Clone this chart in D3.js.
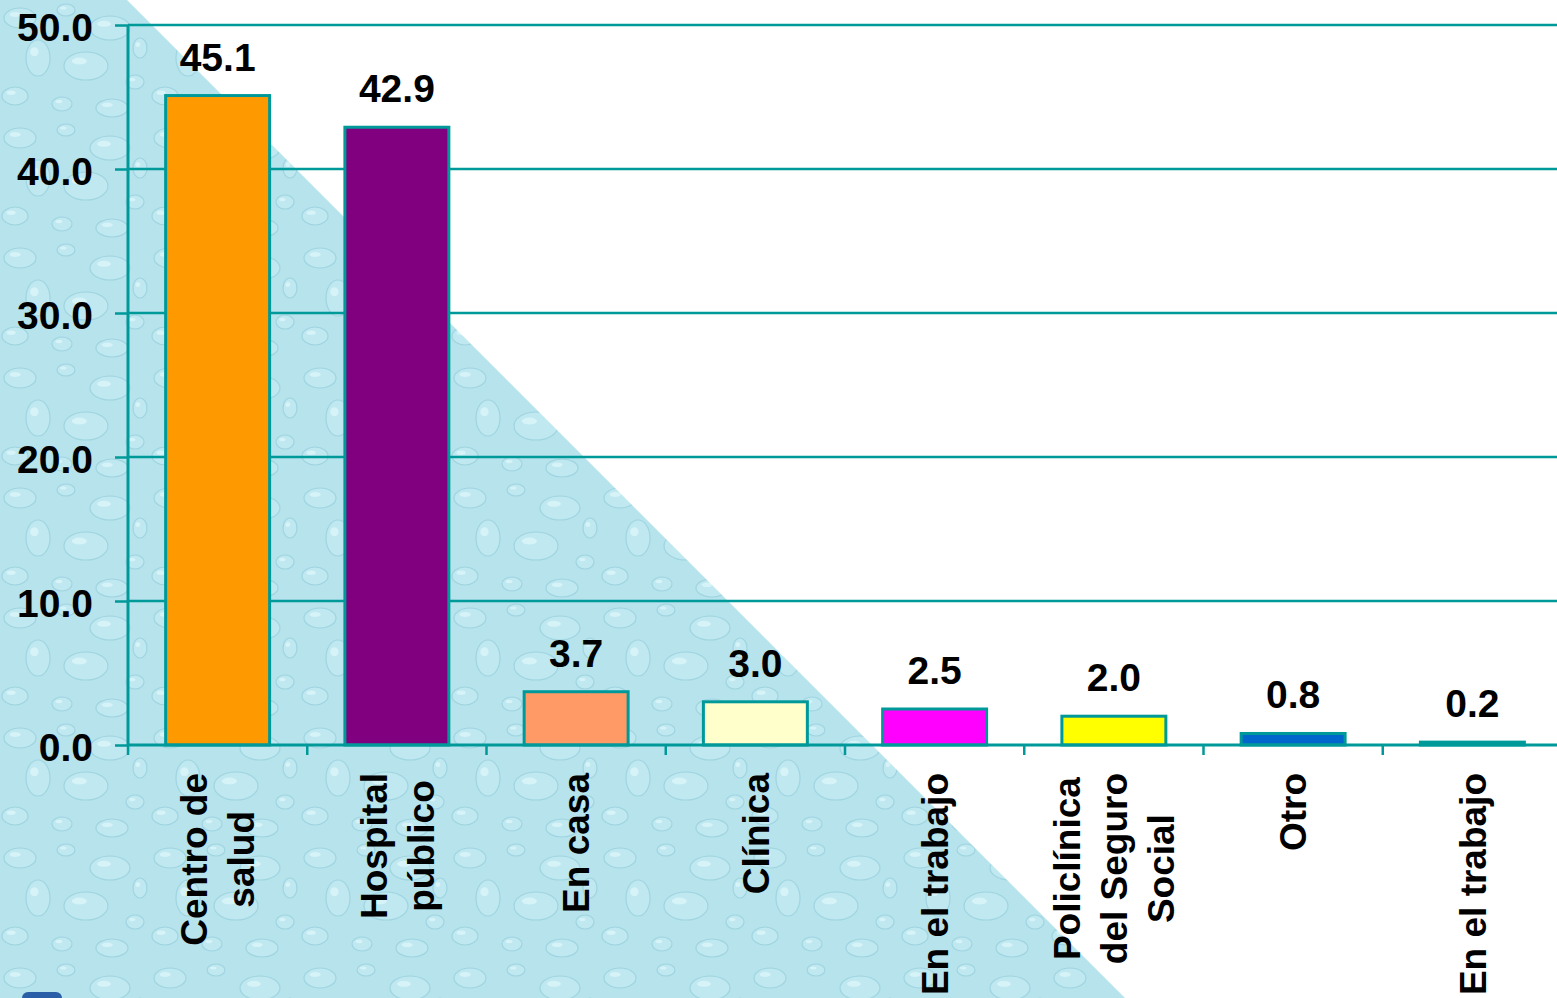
<!DOCTYPE html>
<html>
<head>
<meta charset="utf-8">
<script src="https://cdn.jsdelivr.net/npm/d3@7"></script>
<style>
  body { margin: 0; background: #fff; }
  svg { display: block; font-family: "Liberation Sans", Arial, sans-serif; }
</style>
</head>
<body>
<div id="chart"></div>
<script>
// data
const categories = [
  ["Centro de", "salud"],
  ["Hospital", "público"],
  ["En casa"],
  ["Clínica"],
  ["En el trabajo"],
  ["Policlínica", "del Seguro", "Social"],
  ["Otro"],
  ["En el trabajo"]
];
const values = [45.1, 42.9, 3.7, 3.0, 2.5, 2.0, 0.8, 0.2];
const barColors = ["#ff9900", "#800080", "#ff9966", "#ffffcc", "#ff00ff", "#ffff00", "#0066cc", "#009999"];
const yTicks = [0, 10, 20, 30, 40, 50];

const width = 1557, height = 998;
const teal = "#009999";

const svg = d3.select("#chart").append("svg")
  .attr("width", width)
  .attr("height", height);

// water drop texture for the triangle
const defs = svg.append("defs");
const pat = defs.append("pattern")
  .attr("id", "water")
  .attr("patternUnits", "userSpaceOnUse")
  .attr("width", 150).attr("height", 120);
pat.append("rect").attr("width", 150).attr("height", 120).attr("fill", "#b6e3ec");
const drops = [
  [20, 18, 16, 10], [66, 10, 9, 6], [110, 28, 20, 12], [38, 58, 12, 18],
  [86, 66, 22, 14], [135, 82, 9, 7], [15, 96, 13, 9], [62, 104, 10, 7],
  [112, 108, 16, 9], [140, 48, 7, 10]
];
drops.forEach(d => {
  pat.append("ellipse")
    .attr("cx", d[0]).attr("cy", d[1]).attr("rx", d[2]).attr("ry", d[3])
    .attr("fill", "#bfe8f0").attr("stroke", "#9fd5e1").attr("stroke-width", 1.2);
  pat.append("ellipse")
    .attr("cx", d[0] - d[2] * 0.3).attr("cy", d[1] - d[3] * 0.35)
    .attr("rx", d[2] * 0.35).attr("ry", d[3] * 0.25)
    .attr("fill", "#d6f3f8");
});

svg.append("polygon")
  .attr("points", `0,0 127,0 ${127 + height},${height} 0,${height}`)
  .attr("fill", "url(#water)");

// small blue shape peeking in at the bottom-left corner
svg.append("rect")
  .attr("x", 22).attr("y", 992).attr("width", 40).attr("height", 14).attr("rx", 6)
  .attr("fill", "#2a5fa8");

// scales
const x = d3.scaleBand()
  .domain(d3.range(values.length))
  .range([128, 1562])
  .paddingInner(0.42)
  .paddingOuter(0.21);

const y = d3.scaleLinear()
  .domain([0, 50])
  .range([745, 25]);

// gridlines + y axis
const yAxis = svg.append("g")
  .attr("transform", "translate(128,0)")
  .call(d3.axisLeft(y).tickValues(yTicks).tickSize(13).tickFormat(d3.format(".1f")));
yAxis.select(".domain").remove();
yAxis.selectAll(".tick line").attr("stroke", teal).attr("stroke-width", 2.5);
yAxis.selectAll(".tick text")
  .attr("x", -35)
  .attr("dy", "0.4em")
  .attr("font-size", 39)
  .attr("font-weight", "bold")
  .attr("fill", "#000");

svg.append("g")
  .selectAll("line")
  .data(yTicks.filter(d => d > 0))
  .join("line")
    .attr("x1", 128).attr("x2", width)
    .attr("y1", d => y(d)).attr("y2", d => y(d))
    .attr("stroke", teal).attr("stroke-width", 2.5);

svg.append("line")
  .attr("x1", 128).attr("x2", 128)
  .attr("y1", y(50)).attr("y2", y(0))
  .attr("stroke", teal).attr("stroke-width", 3);

// bars
svg.append("g")
  .selectAll("rect")
  .data(values)
  .join("rect")
    .attr("x", (d, i) => x(i))
    .attr("y", d => y(d))
    .attr("width", x.bandwidth())
    .attr("height", d => y(0) - y(d))
    .attr("fill", (d, i) => barColors[i])
    .attr("stroke", teal)
    .attr("stroke-width", 3);

// x axis
const xAxis = svg.append("g")
  .attr("transform", `translate(0,${y(0)})`);
xAxis.append("line")
  .attr("x1", 128).attr("x2", width)
  .attr("stroke", teal).attr("stroke-width", 3);
xAxis.selectAll(".xt")
  .data(d3.range(values.length + 1))
  .join("line")
    .attr("class", "xt")
    .attr("x1", i => 128 + i * x.step())
    .attr("x2", i => 128 + i * x.step())
    .attr("y1", 0).attr("y2", 10)
    .attr("stroke", teal).attr("stroke-width", 2.5);

// value labels
svg.append("g")
  .selectAll("text")
  .data(values)
  .join("text")
    .attr("x", (d, i) => x(i) + x.bandwidth() / 2)
    .attr("y", d => y(d) - 25)
    .attr("text-anchor", "middle")
    .attr("font-size", 39)
    .attr("font-weight", "bold")
    .attr("fill", "#000")
    .text(d => d3.format(".1f")(d));

// category labels, rotated, block aligned to the axis
const labelTop = 773;
const lineGap = 47;
categories.forEach((lines, i) => {
  const g = svg.append("g");
  const texts = lines.map((t, j) => g.append("text")
    .attr("x", 0)
    .attr("y", (j - (lines.length - 1) / 2) * lineGap)
    .attr("dy", "0.36em")
    .attr("text-anchor", "middle")
    .attr("font-size", 37)
    .attr("font-weight", "bold")
    .attr("fill", "#000")
    .text(t));
  const maxW = d3.max(texts, t => t.node().getComputedTextLength());
  g.attr("transform", `translate(${x(i) + x.bandwidth() / 2},${labelTop + maxW / 2}) rotate(-90)`);
});
</script>
</body>
</html>
